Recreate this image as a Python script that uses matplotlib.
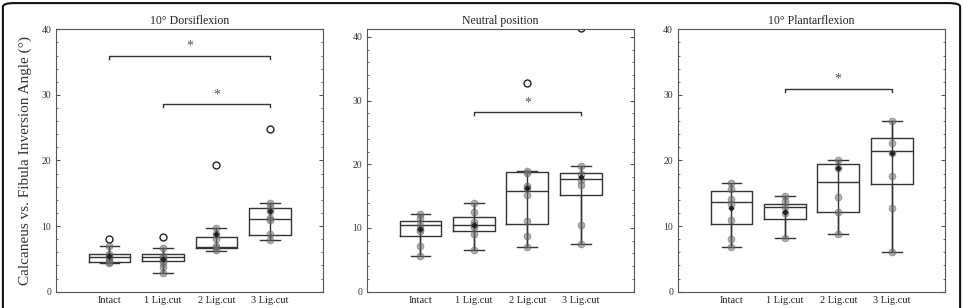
import matplotlib
matplotlib.use("Agg")
import matplotlib.pyplot as plt
from matplotlib.patches import FancyBboxPatch
from matplotlib.ticker import MultipleLocator

plt.rcParams['font.family'] = ['Liberation Serif', 'DejaVu Serif']

groups = ["Intact", "1 Lig.cut", "2 Lig.cut", "3 Lig.cut"]
titles = ["10° Dorsiflexion", "Neutral position", "10° Plantarflexion"]
ylims = [40, 41.2, 40]

# box statistics: q1, median, q3, whisker low, whisker high
dorsi_q1 = [4.5, 4.7, 6.6, 8.6]
dorsi_med = [5.3, 5.3, 6.75, 11.1]
dorsi_q3 = [5.7, 5.7, 8.4, 12.75]
dorsi_lo = [4.3, 2.9, 6.25, 7.9]
dorsi_hi = [7.0, 6.6, 9.7, 13.5]
dorsi_mean = [5.4, 5.0, 8.8, 12.3]
dorsi_fliers = [[8.0], [8.3], [19.3], [24.8]]
dorsi_points = [[7.0, 5.8, 5.5, 5.3, 5.0, 4.5, 4.3],
                [6.6, 5.4, 5.1, 4.9, 4.3, 3.8, 2.9],
                [9.7, 8.8, 8.0, 6.9, 6.6, 6.3],
                [13.5, 12.9, 12.3, 11.2, 10.9, 8.8, 7.9]]

neutral_q1 = [8.8, 9.5, 10.6, 15.2]
neutral_med = [10.4, 10.4, 15.8, 17.7]
neutral_q3 = [11.1, 11.7, 18.8, 18.6]
neutral_lo = [5.6, 6.5, 7.0, 7.5]
neutral_hi = [12.2, 14.0, 18.9, 19.7]
neutral_mean = [9.8, 10.5, 16.2, 18.0]
neutral_fliers = [[], [], [32.7], [41.4]]
neutral_points = [[12.2, 11.5, 10.5, 9.9, 9.6, 7.2, 5.6],
                  [14.0, 12.5, 10.9, 10.5, 10.2, 9.1, 6.5],
                  [18.9, 18.6, 16.6, 16.2, 15.1, 11.1, 8.8, 7.0],
                  [19.7, 18.4, 17.5, 16.8, 10.4, 7.5]]

plantar_q1 = [10.3, 11.1, 12.2, 16.4]
plantar_med = [13.7, 12.9, 16.7, 21.4]
plantar_q3 = [15.3, 13.3, 19.4, 23.5]
plantar_lo = [6.8, 8.2, 8.8, 6.0]
plantar_hi = [16.6, 14.6, 20.1, 26.0]
plantar_mean = [12.7, 12.1, 18.9, 21.2]
plantar_fliers = [[], [], [], []]
plantar_points = [[16.6, 15.6, 14.1, 13.3, 11.0, 8.1, 6.8],
                  [14.6, 13.8, 12.9, 12.0, 8.2],
                  [20.1, 18.9, 14.4, 12.2, 8.8],
                  [26.0, 22.6, 21.2, 17.6, 12.8, 6.0]]

# significance brackets: (from group, to group, height)
dorsi_sig = [(1, 4, 36.0), (2, 4, 28.6)]
neutral_sig = [(2, 4, 28.2)]
plantar_sig = [(2, 4, 30.95)]

panels = [
    (dorsi_q1, dorsi_med, dorsi_q3, dorsi_lo, dorsi_hi, dorsi_mean, dorsi_fliers, dorsi_points, dorsi_sig),
    (neutral_q1, neutral_med, neutral_q3, neutral_lo, neutral_hi, neutral_mean, neutral_fliers, neutral_points, neutral_sig),
    (plantar_q1, plantar_med, plantar_q3, plantar_lo, plantar_hi, plantar_mean, plantar_fliers, plantar_points, plantar_sig),
]

fig = plt.figure(figsize=(9.63, 3.08), dpi=100)
lefts = [0.0582, 0.3811, 0.7040]
dark = "#333333"

for k, (q1, med, q3, lo, hi, mean, fl, pts, sig) in enumerate(panels):
    ax = fig.add_axes([lefts[k], 0.053, 0.2775, 0.852])
    pos = [1, 2, 3, 4]
    stats = []
    for i in range(4):
        stats.append({"q1": q1[i], "med": med[i], "q3": q3[i],
                      "whislo": lo[i], "whishi": hi[i], "fliers": fl[i]})
    ax.bxp(stats, positions=pos, widths=0.78, showfliers=True,
           boxprops=dict(color=dark, linewidth=1.0),
           medianprops=dict(color=dark, linewidth=1.0),
           whiskerprops=dict(color=dark, linewidth=1.0),
           capprops=dict(color=dark, linewidth=1.0),
           capwidths=0.37,
           flierprops=dict(marker="o", markerfacecolor="none",
                           markeredgecolor="#222222", markersize=5, markeredgewidth=1.0))
    ax.vlines(pos, lo, hi, color=dark, linewidth=1.0, zorder=2)
    for i in range(4):
        ax.plot([pos[i]] * len(pts[i]), pts[i], "o", color="#707070", alpha=0.55,
                markersize=5, markeredgecolor="#555555", markeredgewidth=0.5, zorder=3)
    ax.plot(pos, mean, "P", color="#222222", markersize=3, linestyle="none", zorder=4)

    for a, b, y in sig:
        ax.plot([a, a, b, b], [y - 0.5, y, y, y - 0.5], color=dark, linewidth=1.0)
        ax.text((a + b) / 2, y + 1.4, "*", ha="center", va="center",
                fontsize=10, color="#555555")

    ax.set_xlim(0, 5)
    ax.set_ylim(0, ylims[k])
    ax.set_xticks(pos)
    ax.set_xticklabels(groups, fontsize=7.5, color="#222222")
    ax.tick_params(axis="x", length=0, pad=3)
    ax.yaxis.set_major_locator(MultipleLocator(10))
    ax.yaxis.set_minor_locator(MultipleLocator(2))
    ax.tick_params(axis="y", which="both", direction="in", right=True,
                   labelsize=7, labelcolor="#333333", color="#555555")
    ax.tick_params(axis="y", which="major", length=3)
    ax.tick_params(axis="y", which="minor", length=1.5)
    for s in ax.spines.values():
        s.set_color("#555555")
        s.set_linewidth(0.8)
    ax.set_title(titles[k], fontsize=8.5, pad=4, color="#222222")
    if k == 0:
        ax.set_ylabel("Calcaneus vs. Fibula Inversion Angle (°)", fontsize=11,
                      color="#333333", labelpad=7)

frame = FancyBboxPatch((0.003, -0.05), 0.994, 1.04, transform=fig.transFigure,
                       boxstyle="round,pad=0,rounding_size=0.012",
                       facecolor="none", edgecolor="#111111", linewidth=1.5)
fig.patches.append(frame)

fig.savefig("out.png", dpi=100)
